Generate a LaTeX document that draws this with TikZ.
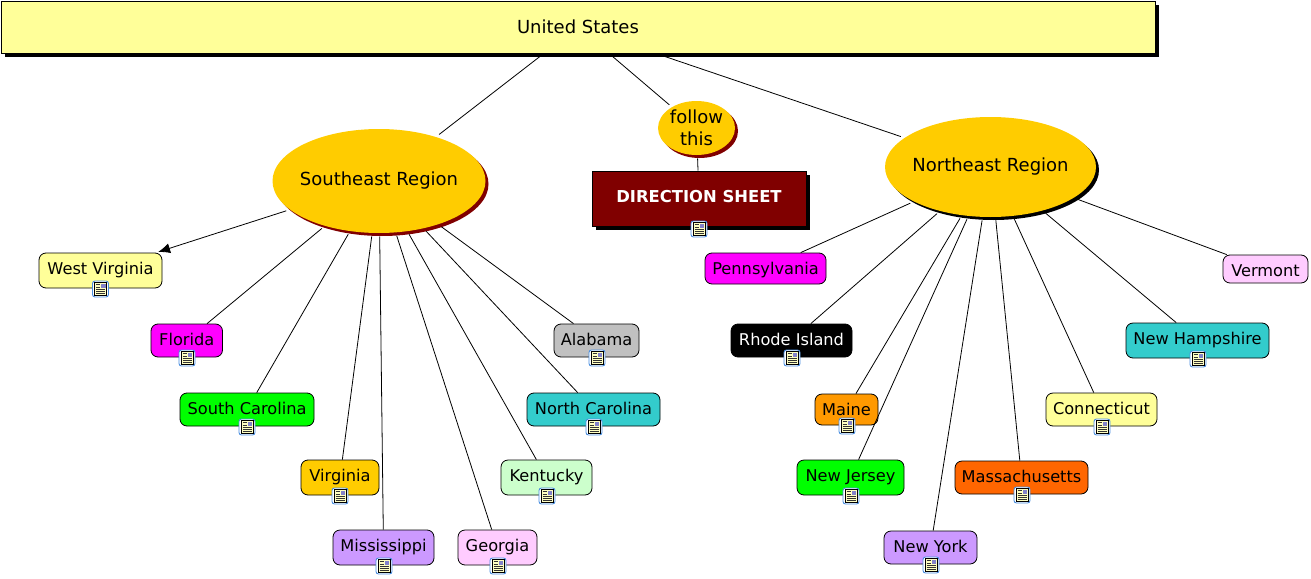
\documentclass[tikz,border=0pt]{standalone}
\usepackage{fontspec}
\setmainfont{DejaVu Sans}
\usetikzlibrary{shapes.geometric,arrows.meta}
\definecolor{usyellow}{HTML}{FFFF99}
\definecolor{gold}{HTML}{FFCC00}
\definecolor{maroon}{HTML}{800000}
\definecolor{magent}{HTML}{FF00FF}
\definecolor{lime}{HTML}{00FF00}
\definecolor{teal2}{HTML}{33CCCC}
\definecolor{purp}{HTML}{CC99FF}
\definecolor{pinkish}{HTML}{FFCCFF}
\definecolor{mint}{HTML}{CCFFCC}
\definecolor{grey2}{HTML}{C0C0C0}
\definecolor{orange1}{HTML}{FF9900}
\definecolor{orange2}{HTML}{FF6600}
\definecolor{iconblue}{HTML}{4A8FE0}
\tikzset{
  every node/.style={font=\fontsize{16.2}{19}\selectfont, inner sep=0pt},
  lnk/.style={draw=black, line width=0.8pt},
  conc/.style={draw=black, line width=0.8pt, rounded corners=7pt, rectangle, text height=10pt, text depth=3pt},
  oval/.style={ellipse, fill=gold, inner sep=-6pt, outer sep=3.5pt, align=center, font=\fontsize{18}{22}\selectfont},
  flat/.style={rectangle, draw=black, line width=0.9pt}
}
% name, x0, y0, x1, y1, fill, text colour, text
\newcommand{\cbox}[8]{%
  \pgfmathsetlengthmacro{\bw}{#4-#2}%
  \pgfmathsetlengthmacro{\bh}{#5-#3}%
  \pgfmathsetlengthmacro{\rs}{(#5-#3)/2-17.5}%
  \node[conc, fill=#6, text=#7, minimum width=\bw, minimum height=\bh]
    (#1) at ({(#2+#4)/2},{(#3+#5)/2}) {\raisebox{\rs}{#8}};}
\newcommand{\docicon}[1]{%
  \begin{scope}[shift={(#1)}]
    \fill[white, draw=iconblue, line width=0.9pt, rounded corners=2.5pt] (-8,-8) rectangle (8,8);
    \fill[usyellow!60!white, draw=black, line width=0.6pt] (-6,-6.5) rectangle (6,6.5);
    \fill[gray!60!blue!70!white] (0.5,-5.5) rectangle (5,-1);
    \foreach \yy in {0.5,2.5,4.5}{\draw[black!80, line width=0.5pt] (-4.5,\yy) -- (4.5,\yy);}
    \draw[black!80, line width=0.5pt] (-4.5,-4.5) -- (-0.5,-4.5);
    \draw[black!80, line width=0.5pt] (-4.5,-2.2) -- (-0.5,-2.2);
  \end{scope}}
\begin{document}
\begin{tikzpicture}[x=1pt,y=-1pt]
\useasboundingbox (0,0) rectangle (1311,578);
% shadows
\fill[black] (5,5) rectangle (1159,57);
\fill[maroon] (382,184) ellipse [x radius=106.5, y radius=52];
\fill[black] (993.5,170) ellipse [x radius=105.5, y radius=50];
\fill[maroon] (699.5,131) ellipse [x radius=38.5, y radius=27];
\fill[black] (596,175) rectangle (810,230);

\node[flat, fill=usyellow, minimum width=1154pt, minimum height=52pt, font=\fontsize{18}{22}\selectfont] (us) at (578,27) {United States};
\node[oval, minimum width=213pt, minimum height=104pt] (se) at (379,181) {Southeast Region};
\node[oval, minimum width=211pt, minimum height=100pt] (ne) at (990.5,167) {Northeast Region};
\node[oval, minimum width=77pt, minimum height=54pt] (follow) at (696.5,128) {follow\\this};
\node[flat, fill=maroon, text=white, minimum width=214pt, minimum height=55pt, font=\fontsize{16.4}{19}\selectfont\bfseries] (dir) at (699,198.5) {\raisebox{4pt}{DIRECTION SHEET}};

\cbox{wv}{39}{253}{162}{288}{usyellow}{black}{West Virginia}
\cbox{fl}{151}{324}{222.5}{357}{magent}{black}{Florida}
\cbox{sc}{180}{393}{314}{426}{lime}{black}{South Carolina}
\cbox{va}{301}{460}{379}{495}{gold}{black}{Virginia}
\cbox{ms}{333}{530}{434}{565}{purp}{black}{Mississippi}
\cbox{ga}{458}{530}{537}{565}{pinkish}{black}{Georgia}
\cbox{ky}{501}{460}{592}{495}{mint}{black}{Kentucky}
\cbox{nc}{527}{393}{660}{426}{teal2}{black}{North Carolina}
\cbox{al}{554}{324}{639}{357}{grey2}{black}{Alabama}
\cbox{pa}{705}{253}{826}{284}{magent}{black}{Pennsylvania}
\cbox{ri}{731}{324}{852}{357}{black}{white}{Rhode Island}
\cbox{me}{815}{394}{878}{425}{orange1}{black}{Maine}
\cbox{nj}{797}{460}{904}{495}{lime}{black}{New Jersey}
\cbox{ny}{884}{531}{977}{564}{purp}{black}{New York}
\cbox{ma}{955}{461}{1088}{494}{orange2}{black}{Massachusetts}
\cbox{ct}{1046}{393}{1157}{426}{usyellow}{black}{Connecticut}
\cbox{nh}{1126}{323}{1269}{358}{teal2}{black}{New Hampshire}
\cbox{vt}{1223}{255}{1308}{283}{pinkish}{black}{Vermont}

\draw[lnk] (us) -- (se);
\draw[lnk] (us) -- (follow);
\draw[lnk] (us) -- (ne);
\draw[lnk] (follow) -- (dir);
\draw[lnk, -{Latex[length=12pt,width=10pt]}, shorten >=2pt] (se) -- (wv);
\foreach \t in {fl,sc,va,ms,ga,ky,nc,al}{\draw[lnk] (se) -- (\t);}
\foreach \t in {pa,ri,me,nj,ny,ma,ct,nh,vt}{\draw[lnk] (ne) -- (\t);}

\docicon{699,229}
\docicon{100.5,289}
\docicon{187,358}
\docicon{247,427}
\docicon{340,496}
\docicon{384,566}
\docicon{498,566}
\docicon{547,496}
\docicon{594,427}
\docicon{597,358}
\docicon{792,358}
\docicon{847,426}
\docicon{851,496}
\docicon{931,565}
\docicon{1022,495}
\docicon{1102,427}
\docicon{1198,359}
\end{tikzpicture}
\end{document}
